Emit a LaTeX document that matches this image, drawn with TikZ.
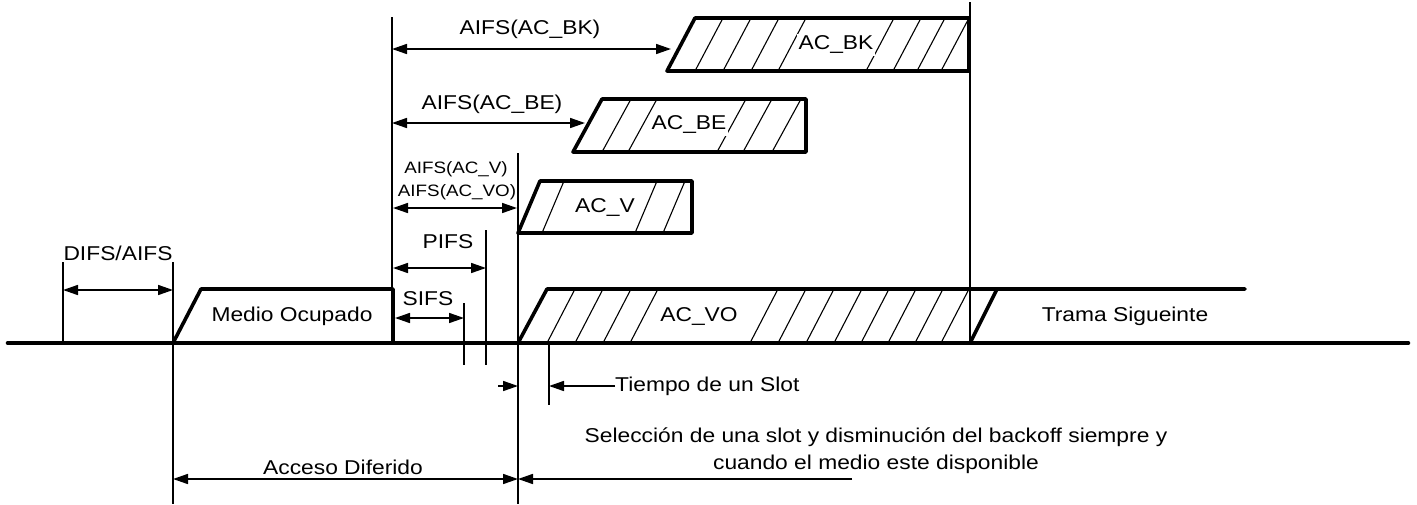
\documentclass[tikz,border=0pt]{standalone}
\usepackage{fontspec}
\setmainfont{Liberation Sans}[FakeStretch=1.14]
\usetikzlibrary{arrows.meta}

\begin{document}
\begin{tikzpicture}[x=1pt, y=-1pt, >={Triangle[length=15pt,width=10pt]},
    every node/.style={inner sep=0pt, font=\fontsize{20}{27}\selectfont},
    small/.style={font=\fontsize{16.5}{20}\selectfont},
    box label/.style={fill=white, inner sep=2pt},
    frame/.style={line width=3.6pt, line join=round},
    guide/.style={line width=1.2pt},
    dim/.style={<->, line width=1.6pt},
    hatch/.style={line width=1.1pt}]
    \useasboundingbox (0,0) rectangle (1417,504);

    % time marks
    \coordinate (difsL) at (63,262);
    \coordinate (difsR) at (173,262);
    \coordinate (busy)  at (392,17);
    \coordinate (sifs)  at (464,303);
    \coordinate (pifs)  at (486,230);
    \coordinate (aifsV) at (518,153);
    \coordinate (slot)  at (549,343);
    \coordinate (next)  at (970,2);

    \draw[guide] (difsL) -- (63,343);
    \draw[guide] (difsR) -- (173,504);
    \draw[guide] (busy) -- (392,289);
    \draw[guide] (sifs) -- (464,365);
    \draw[guide] (pifs) -- (486,365);
    \draw[guide] (aifsV) -- (518,504);
    \draw[guide] (slot) -- (549,405);
    \draw[guide] (next) -- (970,343);

    % hatching
    \foreach \b in {695,723,751,778,866,893,917,941}
        \draw[hatch] (\b,71) -- ++(28,-53);
    \foreach \b in {602,628,717,743,772}
        \draw[hatch] (\b,152) -- ++(29,-53);
    \foreach \b in {542,635,663}
        \draw[hatch] (\b,233) -- ++(22,-52);
    \foreach \b in {547,575,603,630,750,778,806,834,861,888,915,941}
        \draw[hatch] (\b,343) -- ++(28,-54);

    % frames
    \draw[frame] (667,71) -- (695,18) -- (969,18) -- (969,71) -- cycle;
    \draw[frame] (573,152) -- (602,99) -- (806,99) -- (806,152) -- cycle;
    \draw[frame] (518,233) -- (540,181) -- (692,181) -- (692,233) -- cycle;
    \draw[frame] (173,343) -- (201,289) -- (393,289) -- (393,343);
    \draw[frame, line cap=round] (518,343) -- (547,289) -- (1245,289);
    \draw[frame] (970,343) -- (997,289);
    \draw[line width=4.6pt, line cap=round] (8,343) -- (1408,343);

    \node[box label] (BK) at (836,45) {AC\_BK};
    \node[box label] (BE) at (689,125) {AC\_BE};
    \node[box label] (V) at (605,207) {AC\_V};
    \node[box label] (VO) at (699,316) {AC\_VO};
    \node (busyTxt) at (292,316) {Medio Ocupado};
    \node (nextTxt) at (1125,316) {Trama Sigueinte};

    % intervals
    \coordinate (a1) at (63,290);   \coordinate (a2) at (173,290);
    \coordinate (b1) at (392,49);   \coordinate (b2) at (671,49);
    \coordinate (c1) at (392,123);  \coordinate (c2) at (585,123);
    \coordinate (d1) at (393,208);  \coordinate (d2) at (517,208);
    \coordinate (e1) at (393,268);  \coordinate (e2) at (486,268);
    \coordinate (f1) at (395,318);  \coordinate (f2) at (464,318);
    \coordinate (g1) at (173,479);  \coordinate (g2) at (518,479);
    \coordinate (h2) at (852,479);

    \draw[dim] (a1) -- (a2);
    \draw[dim] (b1) -- (b2);
    \draw[dim] (c1) -- (c2);
    \draw[dim] (d1) -- (d2);
    \draw[dim] (e1) -- (e2);
    \draw[dim] (f1) -- (f2);
    \draw[dim] (g1) -- (g2);
    \draw[->, line width=1.6pt] (h2) -- (g2);

    \node (difsTxt) at (118,253) {DIFS/AIFS};
    \node (bkTxt) at (530,29) {AIFS(AC\_BK)};
    \node (beTxt) at (492,104) {AIFS(AC\_BE)};
    \node[small] (vTxt) at (456,169) {AIFS(AC\_V)};
    \node[small] (voTxt) at (457,192) {AIFS(AC\_VO)};
    \node (pifsTxt) at (448,242) {PIFS};
    \node (sifsTxt) at (428,299) {SIFS};

    % slot time
    \coordinate (s0) at (498,386);
    \coordinate (s1) at (518,386);
    \coordinate (s2) at (549,386);
    \node[anchor=west] (slotTxt) at (615,386) {Tiempo de un Slot};
    \draw[->, line width=1.6pt] (s0) -- (s1);
    \draw[->, line width=1.6pt] (slotTxt.west) -- (s2);

    \node (deferTxt) at (343,467) {Acceso Diferido};
    \node[align=center] (backoffTxt) at (876,451)
        {Selección de una slot y disminución del backoff siempre y\\cuando el medio este disponible};
\end{tikzpicture}
\end{document}
